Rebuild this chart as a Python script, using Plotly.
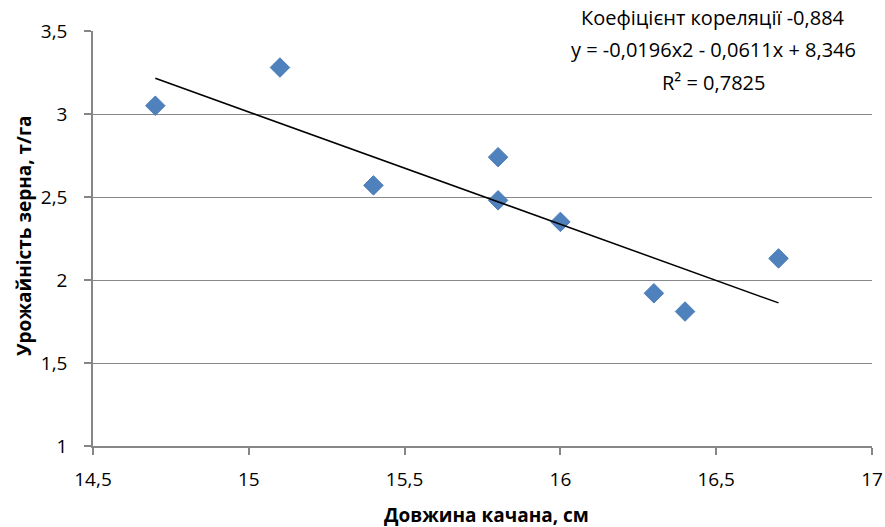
import plotly.graph_objects as go

length_cm = [14.7, 15.1, 15.4, 15.8, 15.8, 16.0, 16.3, 16.4, 16.7]
yield_tha = [3.05, 3.28, 2.57, 2.74, 2.48, 2.35, 1.92, 1.81, 2.13]

trend_x = [14.7, 16.7]
trend_y = [3.215, 1.862]

x_ticks = [14.5, 15, 15.5, 16, 16.5, 17]
x_tick_labels = ["14,5", "15", "15,5", "16", "16,5", "17"]
y_ticks = [1, 1.5, 2, 2.5, 3, 3.5]
y_tick_labels = ["1", "1,5", "2", "2,5", "3", "3,5"]

ann_lines = ["Коефіцієнт кореляції -0,884",
             "y = -0,0196x2 - 0,0611x + 8,346",
             "R² = 0,7825"]
x_title = "Довжина качана, см"
y_title = "Урожайність зерна, т/га"

FONT = "Open Sans"
W, H = 885, 527
# plot area in screen pixels: x 93..872, y 31..446
L, R, T, B = 93, 885 - 872, 31, 527 - 446
PW, PH = 872 - 93, 446 - 31

fig = go.Figure()
fig.add_trace(go.Scatter(
    x=length_cm, y=yield_tha, mode="markers",
    marker=dict(symbol="diamond", size=15, color="#4F81BD",
                line=dict(color="#4A7EBB", width=1)),
    showlegend=False))
fig.add_trace(go.Scatter(
    x=trend_x, y=trend_y, mode="lines",
    line=dict(color="black", width=1.5), showlegend=False))

axis_common = dict(
    showline=True, linecolor="#868686", linewidth=1.5,
    ticks="outside", ticklen=7, tickcolor="#868686", tickwidth=1.5,
    tickfont=dict(family=FONT, size=19, color="black"),
    zeroline=False, automargin=False,
)

fig.update_xaxes(range=[14.5, 17], tickvals=x_ticks, ticktext=x_tick_labels,
                 showgrid=False, ticklabelstandoff=8, **axis_common)
fig.update_yaxes(range=[1, 3.5], tickvals=y_ticks, ticktext=y_tick_labels,
                 showgrid=True, gridcolor="#888888", gridwidth=1.3,
                 ticklabelstandoff=13, **axis_common)

def px_x(sx):
    return (sx - 93) / PW

def px_y(sy):
    return (446 - sy) / PH

for i, txt in enumerate(ann_lines):
    fig.add_annotation(text=txt, xref="paper", yref="paper",
                       x=px_x(713), y=px_y(18 + 32 * i),
                       xanchor="center", yanchor="middle", showarrow=False,
                       font=dict(family=FONT, size=20, color="black"))

fig.add_annotation(text="<b>" + x_title + "</b>", xref="paper", yref="paper",
                   x=px_x(486), y=px_y(515),
                   xanchor="center", yanchor="middle", showarrow=False,
                   font=dict(family=FONT, size=19, color="black"))
fig.add_annotation(text="<b>" + y_title + "</b>", xref="paper", yref="paper",
                   x=px_x(24), y=px_y(236), textangle=-90,
                   xanchor="center", yanchor="middle", showarrow=False,
                   font=dict(family=FONT, size=19, color="black"))

fig.update_layout(
    width=W, height=H,
    margin=dict(l=L, r=R, t=T, b=B),
    plot_bgcolor="white", paper_bgcolor="white",
    font=dict(family=FONT),
)

fig.write_html("out.html",
               config={"displayModeBar": False},
               post_script="document.body.style.margin='0px';"
                           "document.body.style.overflow='hidden';")
